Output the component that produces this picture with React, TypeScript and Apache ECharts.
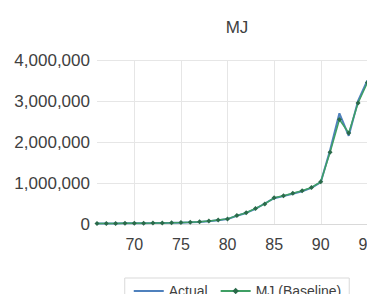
import React, { useEffect, useRef } from "react";
import * as echarts from "echarts";

const years = [66, 67, 68, 69, 70, 71, 72, 73, 74, 75, 76, 77, 78, 79, 80, 81, 82, 83, 84, 85, 86, 87, 88, 89, 90, 91, 92, 93, 94, 95];
const actual = [10000, 12000, 14000, 16000, 18000, 20000, 22000, 25000, 28000, 33000, 40000, 50000, 70000, 90000, 120000, 200000, 270000, 370000, 500000, 630000, 680000, 740000, 800000, 880000, 1020000, 1800000, 2700000, 2150000, 3000000, 3500000];
const baseline = [10000, 12000, 14000, 16000, 18000, 20000, 22000, 25000, 29000, 34000, 41000, 52000, 72000, 95000, 125000, 205000, 275000, 380000, 490000, 640000, 690000, 750000, 810000, 890000, 1030000, 1750000, 2550000, 2220000, 2950000, 3450000];
const xTicks = [70, 75, 80, 85, 90, 95, 100];

const FONT = "'Liberation Sans', Arial, sans-serif";

export default function App() {
  const ref = useRef<HTMLDivElement>(null);
  useEffect(() => {
    if (!ref.current) return;
    const chart = echarts.init(ref.current, null, { renderer: "svg" });
    chart.setOption({
      animation: false,
      backgroundColor: "#ffffff",
      title: {
        text: "MJ",
        left: "center",
        top: 14,
        textStyle: { fontFamily: FONT, fontSize: 17, fontWeight: "normal", color: "#404040" },
      },
      legend: {
        left: "center",
        top: 278,
        data: [{ name: "Actual", itemStyle: { opacity: 0 } }, { name: "MJ (Baseline)" }],
        borderColor: "#d9d9d9",
        borderWidth: 1,
        padding: [6, 8, 6, 8],
        itemWidth: 30,
        itemHeight: 8,
        itemGap: 12,
        textStyle: { fontFamily: FONT, fontSize: 14, color: "#404040" },
      },
      grid: { left: 97, top: 60, width: 317, height: 164 },
      xAxis: {
        type: "value",
        min: 66,
        max: 100,
        axisLine: { show: true, lineStyle: { color: "#d9d9d9" } },
        axisTick: { show: false, customValues: xTicks },
        axisLabel: {
          customValues: xTicks,
          fontFamily: FONT,
          fontSize: 16,
          color: "#404040",
          margin: 12,
        },
        splitLine: { show: true, lineStyle: { color: "#e6e6e6" } },
      },
      yAxis: {
        type: "value",
        min: 0,
        max: 4000000,
        interval: 1000000,
        axisLine: { show: false },
        axisTick: { show: false },
        axisLabel: {
          fontFamily: FONT,
          fontSize: 17,
          color: "#404040",
          margin: 7,
          formatter: (v: number) => v.toLocaleString("en-US"),
        },
        splitLine: { show: true, lineStyle: { color: "#e6e6e6" } },
      },
      series: [
        {
          name: "Actual",
          type: "line",
          data: years.map((y, i) => [y, actual[i]]),
          symbol: "none",
          lineStyle: { color: "#4f81bd", width: 2 },
          itemStyle: { color: "#4f81bd" },
          z: 2,
        },
        {
          name: "MJ (Baseline)",
          type: "line",
          data: years.map((y, i) => [y, baseline[i]]),
          symbol: "diamond",
          symbolSize: 5,
          lineStyle: { color: "#3f9f64", width: 1.5 },
          itemStyle: { color: "#2a6a4a" },
          z: 3,
        },
      ],
    });
    return () => chart.dispose();
  }, []);
  return (
    <div style={{ position: "absolute", left: 0, top: 0, width: 367, height: 294, overflow: "hidden", background: "#fff" }}>
      <div ref={ref} style={{ width: 474, height: 330 }} />
    </div>
  );
}
